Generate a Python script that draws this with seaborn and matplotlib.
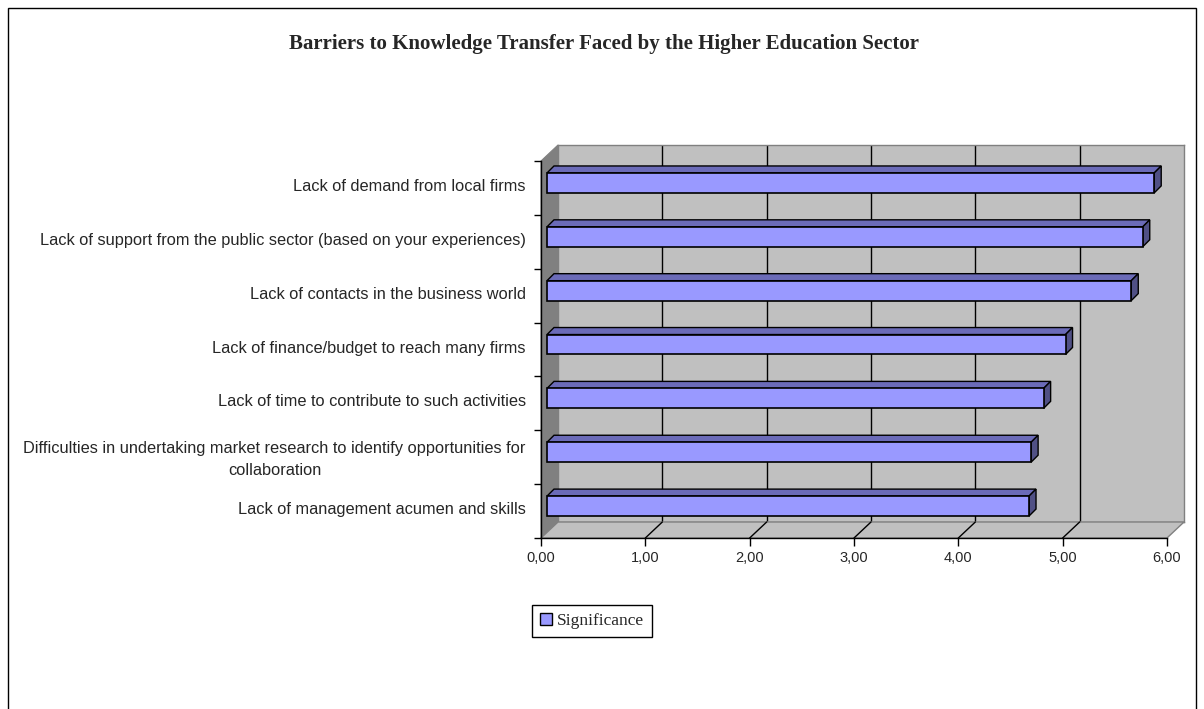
import matplotlib
matplotlib.use("Agg")
import matplotlib.pyplot as plt
import seaborn as sns
import pandas as pd
from matplotlib.patches import Polygon, Rectangle
from matplotlib.lines import Line2D
from matplotlib.transforms import ScaledTranslation

# ---------------- data ----------------
categories = [
    "Lack of demand from local firms",
    "Lack of support from the public sector (based on your experiences)",
    "Lack of contacts in the business world",
    "Lack of finance/budget to reach many firms",
    "Lack of time to contribute to such activities",
    "Difficulties in undertaking market research to identify opportunities for\ncollaboration",
    "Lack of management acumen and skills",
]
significance = [5.82, 5.71, 5.60, 4.97, 4.76, 4.64, 4.62]
x_ticks = [0, 1, 2, 3, 4, 5, 6]
x_tick_labels = ["0,00", "1,00", "2,00", "3,00", "4,00", "5,00", "6,00"]
series_name = "Significance"
title = "Barriers to Knowledge Transfer Faced by the Higher Education Sector"

df = pd.DataFrame({"category": categories, "value": significance})

sns.set_theme(style="white")
plt.rcParams["font.family"] = ["Liberation Sans", "DejaVu Sans"]

W, H = 1204, 709
DPI = 100
fig = plt.figure(figsize=(W / DPI, H / DPI), dpi=DPI)
fig.patch.set_facecolor("white")

def fx(px):
    return px / W

def fy(py):
    return 1 - py / H

# geometry (reference pixels)
FL, FR, FT, FB = 541, 1167, 161, 538   # front plane
DX, DY = 17, 16                        # depth offset of the box
BAR_DX, BAR_DY = 6, 5                  # bar front face offset into the box
BAR_DEPTH = 7

WALL = "#C0C0C0"
SIDE_WALL = "#808080"
EDGE_GRAY = "#808080"

n = len(categories)
XMAX = 6.0

# back wall axes
axb = fig.add_axes([fx(FL + DX), fy(FB - DY), fx(FR - FL), (FB - FT) / H])
axb.set_zorder(0)
axb.set_facecolor(WALL)
axb.set_xlim(0, XMAX)
axb.set_ylim(n - 0.5, -0.5)
axb.set_xticks([])
axb.set_yticks([])
for s in axb.spines.values():
    s.set_color(EDGE_GRAY)
    s.set_linewidth(1.0)
for t in x_ticks[1:-1]:
    axb.axvline(t, color="black", lw=1.0, zorder=1)

# left wall and floor (figure coords)
left_wall = Polygon(
    [(fx(FL), fy(FT)), (fx(FL + DX), fy(FT - DY)), (fx(FL + DX), fy(FB - DY)), (fx(FL), fy(FB))],
    closed=True, transform=fig.transFigure, facecolor=SIDE_WALL, edgecolor=EDGE_GRAY, lw=0.8, zorder=0.5)
floor = Polygon(
    [(fx(FL), fy(FB)), (fx(FL + DX), fy(FB - DY)), (fx(FR + DX), fy(FB - DY)), (fx(FR), fy(FB))],
    closed=True, transform=fig.transFigure, facecolor=WALL, edgecolor=EDGE_GRAY, lw=1.0, zorder=0.5)
fig.add_artist(left_wall)
fig.add_artist(floor)

# front axes (bars, labels)
ax = fig.add_axes([fx(FL), fy(FB), fx(FR - FL), (FB - FT) / H])
ax.set_zorder(1)
ax.patch.set_alpha(0)

sns.barplot(data=df, x="value", y="category", orient="h", ax=ax,
            color="#9999FF", saturation=1, width=0.37, edgecolor="black",
            linewidth=1.2, legend=False)

ax.set_xlim(0, XMAX)
ax.set_ylim(n - 0.5, -0.5)
ax.set_xlabel("")
ax.set_ylabel("")

for s in ["top", "right"]:
    ax.spines[s].set_visible(False)
for s in ["left", "bottom"]:
    ax.spines[s].set_color("black")
    ax.spines[s].set_linewidth(1.0)

# pixel -> data conversion (dpi independent: based on axes size in inches)
ax_w_in = (FR - FL) / DPI
ax_h_in = (FB - FT) / DPI
px2x = XMAX / ax_w_in / DPI          # data x per reference pixel
px2y = n / ax_h_in / DPI             # data y per reference pixel (y inverted)

ax.set_xticks(x_ticks)
ax.set_xticklabels(x_tick_labels, fontsize=10.5)
ax.tick_params(axis="x", direction="out", length=6, width=1, color="black", bottom=True, pad=3)

ax.set_yticks([i - 3 * px2y for i in range(n)])
ax.set_yticklabels(categories, fontsize=11.8)
ax.set_yticks([i - 0.5 for i in range(n + 1)], minor=True)
ax.tick_params(axis="y", which="minor", direction="out", length=5, width=1, color="black", left=True)
ax.tick_params(axis="y", which="major", length=0, pad=11)
for lab in ax.get_yticklabels():
    lab.set_horizontalalignment("right")
    lab.set_multialignment("center")
    lab.set_linespacing(1.6)

# shift bars into the box and add their 3D faces
shift = ScaledTranslation(BAR_DX / DPI, BAR_DY / DPI, fig.dpi_scale_trans)
bars = [p for p in ax.patches if isinstance(p, Rectangle)]
dxd = BAR_DEPTH * px2x
dyd = BAR_DEPTH * px2y
for p in bars:
    p.set_transform(ax.transData + shift)
    p.set_zorder(3)
    x0, y0 = p.get_x(), p.get_y()
    x1, y1 = x0 + p.get_width(), y0 + p.get_height()
    xl, xr = min(x0, x1), max(x0, x1)
    ytop, ybot = min(y0, y1), max(y0, y1)   # inverted axis: smaller y is higher
    top = Polygon([(xl, ytop), (xr, ytop), (xr + dxd, ytop - dyd), (xl + dxd, ytop - dyd)],
                  closed=True, transform=ax.transData + shift, facecolor="#6B6BB8",
                  edgecolor="black", lw=1.0, zorder=2.5, clip_on=False)
    side = Polygon([(xr, ybot), (xr, ytop), (xr + dxd, ytop - dyd), (xr + dxd, ybot - dyd)],
                   closed=True, transform=ax.transData + shift, facecolor="#505085",
                   edgecolor="black", lw=1.0, zorder=2.5, clip_on=False)
    ax.add_patch(top)
    ax.add_patch(side)

# floor diagonals at each tick
for t in x_ticks[1:-1]:
    ax.add_line(Line2D([t, t + DX * px2x], [n - 0.5, n - 0.5 - DY * px2y],
                       color="black", lw=1.0, zorder=0.6, clip_on=False))

# legend
leg_handle = Rectangle((0, 0), 1, 1, facecolor="#9999FF", edgecolor="black", lw=1.0)
leg = fig.legend([leg_handle], [series_name], loc="center",
                 bbox_to_anchor=(fx(592), fy(621)), frameon=True, fancybox=False,
                 edgecolor="black", framealpha=1, handlelength=0.7, handleheight=0.7,
                 handletextpad=0.3, borderpad=0.45,
                 prop={"family": ["Liberation Serif", "DejaVu Serif"], "size": 12.5})
leg.get_frame().set_linewidth(1.0)

# title
fig.text(fx(604), fy(44), title, ha="center", va="center", fontsize=15, fontweight="bold",
         family=["Liberation Serif", "DejaVu Serif"])

# outer border
fig.add_artist(Rectangle((fx(8), fy(715)), fx(1196 - 8), (715 - 8) / H, transform=fig.transFigure,
                         fill=False, edgecolor="black", lw=1.0, zorder=10))

fig.savefig("out.png", dpi=DPI, facecolor="white")
